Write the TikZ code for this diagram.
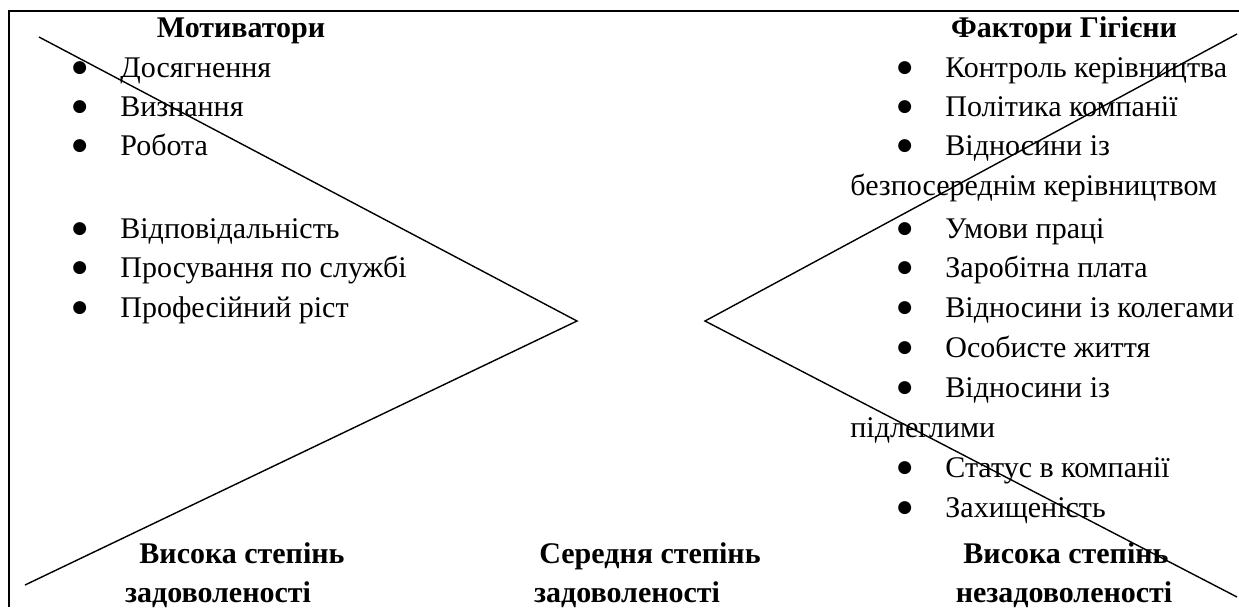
\documentclass[tikz,border=0pt]{standalone}
\usepackage{fontspec}
\setmainfont{Liberation Serif}
\newfontfamily\symfont{DejaVu Sans}
\usetikzlibrary{positioning}
\newcommand{\bul}{\makebox[24pt][l]{\raisebox{2.3pt}{\symfont\fontsize{8.5}{10}\selectfont ●}}}

\begin{document}
\begin{tikzpicture}[x=0.5pt, y=-0.5pt,
    item/.style={anchor=base west, inner sep=0pt, font=\fontsize{15}{18}\selectfont},
    head/.style={anchor=base, inner sep=0pt, font=\fontsize{15}{18}\selectfont\bfseries},
    frame/.style={line width=1.2pt},
    wedge/.style={line width=0.7pt}]
    \useasboundingbox (0,0) rectangle (1239,607);
    % Frame (top and left edge)
    \draw[frame] (1239,11) -- (9,11) -- (9,607);
    % Headings
    \node[head] (mot) at (241,37) {Мотиватори};
    \node[head] (hyg) at (1064,37) {Фактори Гігієни};
    % Motivators
    \node[item] (m1) at (72,77) {\bul Досягнення};
    \node[item] (m2) at (72,116) {\bul Визнання};
    \node[item] (m3) at (72,155) {\bul Робота};
    \node[item] (m4) at (72,238) {\bul Відповідальність};
    \node[item] (m5) at (72,277) {\bul Просування по службі};
    \node[item] (m6) at (72,317) {\bul Професійний ріст};
    % Hygiene factors
    \node[item] (h1) at (897,77) {\bul Контроль керівництва};
    \node[item] (h2) at (897,116) {\bul Політика компанії};
    \node[item] (h3) at (897,155) {\bul Відносини із};
    \node[item] (h3b) at (850,195) {безпосереднім керівництвом};
    \node[item] (h4) at (897,238) {\bul Умови праці};
    \node[item] (h5) at (897,277) {\bul Заробітна плата};
    \node[item] (h6) at (897,317) {\bul Відносини із колегами};
    \node[item] (h7) at (897,357) {\bul Особисте життя};
    \node[item] (h8) at (897,397) {\bul Відносини із};
    \node[item] (h8b) at (850,437) {підлеглими};
    \node[item] (h9) at (897,477) {\bul Статус в компанії};
    \node[item] (h10) at (897,517) {\bul Захищеність};
    % Scale labels
    \node[head] (hi1) at (242,563) {Висока степінь};
    \node[head] (hi2) at (218,602) {задоволеності};
    \node[head] (mid1) at (650,563) {Середня степінь};
    \node[head] (mid2) at (627,602) {задоволеності};
    \node[head] (lo1) at (1066,563) {Висока степінь};
    \node[head] (lo2) at (1064,602) {незадоволеності};
    % Wedges
    \coordinate (ltip) at (577,321);
    \coordinate (rtip) at (705,321);
    \draw[wedge] (39,37) -- (ltip) -- (25,585);
    \draw[wedge] (1237,34) -- (rtip) -- (1237,597);
\end{tikzpicture}
\end{document}
